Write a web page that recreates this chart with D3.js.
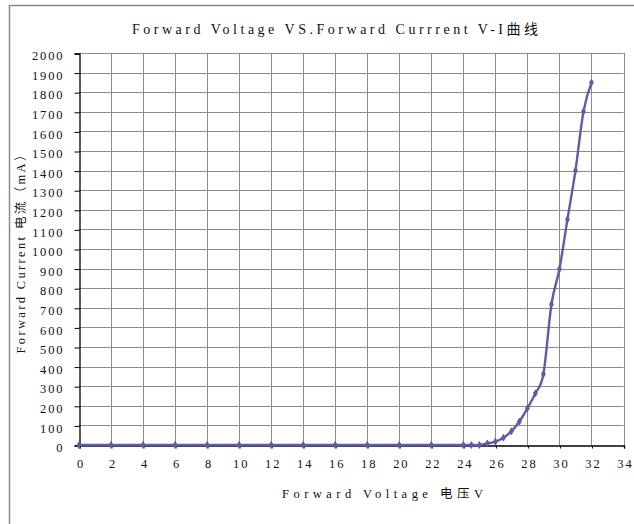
<!DOCTYPE html>
<html>
<head>
<meta charset="utf-8">
<script src="https://cdn.jsdelivr.net/npm/d3@7"></script>
<style>
  html, body { margin: 0; padding: 0; background: #fff; }
  svg { display: block; }
  text { font-family: "Liberation Serif", "Noto Sans CJK SC", serif; fill: #111; }
</style>
</head>
<body>
<svg id="chart" width="634" height="524"></svg>
<script>
// ---- data ----
const voltage = [0, 2, 4, 6, 8, 10, 12, 14, 16, 18, 20, 22, 24, 24.5, 25, 25.5, 26, 26.5, 27, 27.5, 28, 28.5, 29, 29.5, 30, 30.5, 31, 31.5, 32];
const current = [0, 0, 0, 0, 0, 0, 0, 0, 0, 0, 0, 0, 0, 0, 0, 8, 17, 37, 70, 120, 187, 264, 362, 718, 898, 1151, 1400, 1701, 1849];
const xTicks = [0, 2, 4, 6, 8, 10, 12, 14, 16, 18, 20, 22, 24, 26, 28, 30, 32, 34];
const yTicks = [0, 100, 200, 300, 400, 500, 600, 700, 800, 900, 1000, 1100, 1200, 1300, 1400, 1500, 1600, 1700, 1800, 1900, 2000];
const titleText = "Forward Voltage VS.Forward Currrent V-I曲线";
const xTitleText = "Forward Voltage 电压V";
const yTitleText = "Forward Current 电流（mA）";

// ---- layout ----
const svg = d3.select("#chart");
const L = 79, R = 623.5, T = 53, B = 445;
const x = d3.scaleLinear().domain([0, 34]).range([L, R]);
const y = d3.scaleLinear().domain([0, 2000]).range([B, T]);
const lineColor = "#5a5ea6";
const gridColor = "#8c8c8c";
const fontFam = "'Liberation Serif', 'Noto Sans CJK SC', serif";

// outer frame
svg.append("rect")
  .attr("x", 9.5).attr("y", 5.5).attr("width", 700).attr("height", 600)
  .attr("fill", "none").attr("stroke", "#8a8a8a").attr("stroke-width", 1.5);

// gridlines
const g = svg.append("g");
g.selectAll("line.h").data(yTicks.filter(d => d > 0)).join("line")
  .attr("x1", L).attr("x2", R)
  .attr("y1", d => Math.round(y(d)) + 0.5).attr("y2", d => Math.round(y(d)) + 0.5)
  .attr("stroke", gridColor).attr("stroke-width", 1);
g.selectAll("line.v").data(xTicks.filter(d => d > 0)).join("line")
  .attr("x1", d => Math.round(x(d)) + 0.5).attr("x2", d => Math.round(x(d)) + 0.5)
  .attr("y1", T).attr("y2", B)
  .attr("stroke", gridColor).attr("stroke-width", 1);

// y axis
const yAxis = d3.axisLeft(y).tickValues(yTicks).tickSize(5).tickPadding(10).tickFormat(d3.format("d"));
const ya = svg.append("g").attr("transform", `translate(${L + 0.5},0.5)`).call(yAxis);
ya.select(".domain").attr("stroke", "#000").attr("stroke-width", 1.3);
ya.selectAll(".tick line").attr("stroke", "#000");
ya.selectAll(".tick text")
  .attr("font-family", fontFam)
  .attr("font-size", 12.5).attr("letter-spacing", 1.9).attr("fill", "#2a2a2a").attr("dy", "0.5em");

// x axis
const xAxis = d3.axisBottom(x).tickValues(xTicks).tickSize(3).tickPadding(11).tickFormat(d3.format("d"));
const xa = svg.append("g").attr("transform", `translate(0.5,${B + 0.5})`).call(xAxis);
xa.select(".domain").attr("stroke", "#000").attr("stroke-width", 1.3);
xa.selectAll(".tick line").attr("stroke", "#000");
xa.selectAll(".tick text")
  .attr("font-family", fontFam)
  .attr("font-size", 12.5).attr("letter-spacing", 1.9).attr("dx", 1).attr("fill", "#2a2a2a");

// titles
svg.append("text").attr("x", 335).attr("y", 34).attr("text-anchor", "middle")
  .attr("font-family", fontFam).attr("fill", "#222")
  .attr("font-size", 14).attr("textLength", 406).attr("lengthAdjust", "spacing")
  .text(titleText);
svg.append("text").attr("x", 382.5).attr("y", 498).attr("text-anchor", "middle")
  .attr("font-family", fontFam).attr("fill", "#222")
  .attr("font-size", 12.5).attr("textLength", 201).attr("lengthAdjust", "spacing")
  .text(xTitleText);
svg.append("text").attr("transform", "translate(25,251) rotate(-90)").attr("text-anchor", "middle")
  .attr("font-family", fontFam).attr("fill", "#222")
  .attr("font-size", 12.5).attr("textLength", 205).attr("lengthAdjust", "spacing")
  .text(yTitleText);

// series
const pts = voltage.map((v, i) => [v, current[i]]);
const line = d3.line().x(d => x(d[0])).y(d => y(d[1])).curve(d3.curveCardinal.tension(0));
svg.append("path").datum(pts).attr("d", line)
  .attr("fill", "none").attr("stroke", lineColor).attr("stroke-width", 2.4)
  .attr("stroke-linejoin", "round");
const sym = d3.symbol().type(d3.symbolDiamond).size(14);
svg.selectAll("path.mk").data(pts).join("path")
  .attr("class", "mk")
  .attr("transform", d => `translate(${x(d[0])},${y(d[1])})`)
  .attr("d", sym)
  .attr("fill", lineColor).attr("stroke", lineColor).attr("stroke-width", 0.8);
</script>
</body>
</html>
